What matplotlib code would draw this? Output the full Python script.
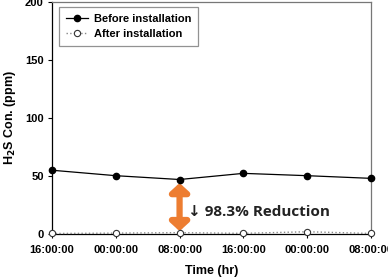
import numpy as np
import matplotlib as mpl
import matplotlib.pyplot as plt

mpl.rcParams["font.family"] = ["Liberation Sans", "DejaVu Sans"]
mpl.rcParams["font.weight"] = "bold"

# ===== Data =====
hours = [0, 8, 16, 24, 32, 40]
tick_labels = ["16:00:00", "00:00:00", "08:00:00", "16:00:00", "00:00:00", "08:00:00"]
before = [55, 50.3, 47, 52.3, 50.3, 48]
after = [0.5, 0.8, 1.2, 0.6, 2.0, 0.5]

# ===== Figure =====
fig = plt.figure(figsize=(3.88, 2.77), dpi=100)
ax = fig.add_axes([0.134, 0.155, 0.822, 0.838])

ax.plot(hours, before, "-", color="black", lw=0.9, marker="o",
        ms=4.5, mfc="black", mec="black", label="Before installation", clip_on=False, zorder=4)
ax.plot(hours, after, ":", color="#888888", lw=1.0, marker="o",
        ms=4.5, mfc="white", mec="#333333", mew=0.8, label="After installation", clip_on=False, zorder=4)

ax.set_xlim(0, 40)
ax.set_ylim(0, 200)
ax.set_xticks(hours)
ax.set_xticklabels(tick_labels)
ax.set_yticks([0, 50, 100, 150, 200])
ax.tick_params(direction="out", length=3, width=0.8, labelsize=8)
ax.tick_params(axis="x", pad=5)
ax.tick_params(axis="y", pad=3)
for s in ["left", "bottom"]:
    ax.spines[s].set_color("black")
    ax.spines[s].set_linewidth(0.9)
for s in ["top", "right"]:
    ax.spines[s].set_color("#777777")
    ax.spines[s].set_linewidth(0.9)

ax.set_xlabel("Time (hr)", fontsize=9, fontweight="bold", labelpad=7)
ax.set_ylabel(r"H$_\mathbf{2}$S Con. (ppm)", fontsize=9, fontweight="bold", labelpad=5)

# ===== Legend =====
leg = ax.legend(loc="upper left", fontsize=8, frameon=True, fancybox=False,
                edgecolor="#777777", handlelength=2.0, handletextpad=0.55,
                borderpad=0.6, labelspacing=0.5, borderaxespad=0,
                bbox_to_anchor=(0.022, 0.978))
leg.get_frame().set_linewidth(0.9)

# ===== Annotation =====
ax.annotate("", xy=(16, 2.5), xytext=(16, 44),
            arrowprops=dict(arrowstyle="<|-|>,head_length=0.5,head_width=0.55",
                            color="#ED7D31", lw=4.5, shrinkA=0, shrinkB=0),
            zorder=3)
ax.text(17.0, 19, "\u2193 98.3% Reduction", fontsize=11, fontweight="bold",
        family=["Open Sans", "DejaVu Sans"], color="#222222",
        ha="left", va="center")

plt.savefig("out.png", dpi=100)
